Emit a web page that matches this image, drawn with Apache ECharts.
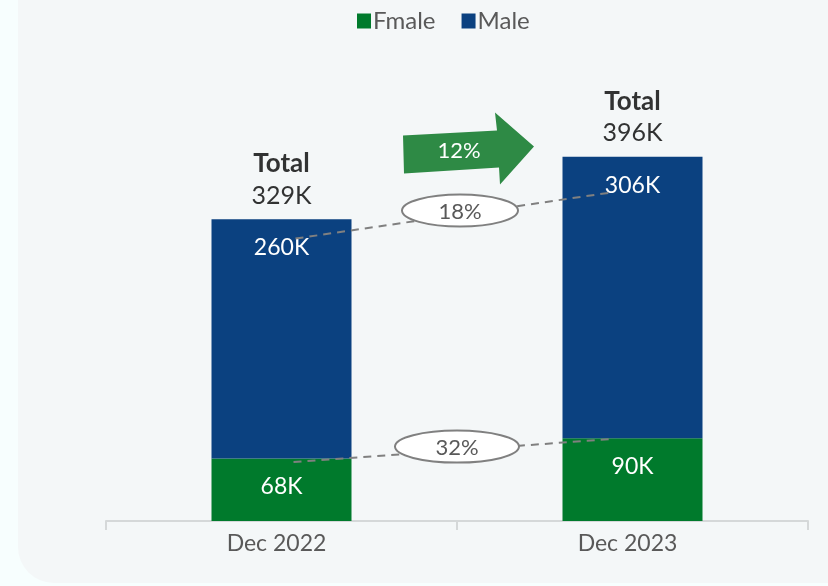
<!DOCTYPE html>
<html><head><meta charset="utf-8">
<script src="https://cdn.jsdelivr.net/npm/echarts@6/dist/echarts.min.js"></script>
<style>html,body{margin:0;padding:0;background:#f7fefe;}#c{width:828px;height:586px;}</style>
</head><body><div id="c"></div>
<script>
const categories = ['Dec 2022', 'Dec 2023'];
const female = [68, 90];
const male = [260, 306];
const totalLabels = ['329K', '396K'];
const femaleGrowth = '32%';
const maleGrowth = '18%';
const totalGrowth = '12%';

const FONT = 'Lato, "Open Sans", sans-serif';
const GREEN = '#007a2c';
const BLUE = '#0b4180';
const GRAY = '#595959';

const chart = echarts.init(document.getElementById('c'), null, {renderer: 'canvas'});
const stackTop = female.map((f, i) => f + male[i]);

chart.setOption({
  backgroundColor: 'transparent',
  animation: false,
  textStyle: {fontFamily: FONT},
  legend: {
    data: ['Fmale', 'Male'],
    top: 4, left: 352,
    itemWidth: 14, itemHeight: 15, itemGap: 26,
    icon: 'rect',
    textStyle: {fontSize: 24, color: GRAY, fontFamily: FONT, padding: [0, 0, 0, -3]}
  },
  grid: {left: 106, right: 20, top: 107, bottom: 65},
  xAxis: {
    type: 'category', data: categories,
    axisLine: {lineStyle: {color: '#d5d8d9', width: 2}},
    axisTick: {show: true, length: 9, lineStyle: {color: '#d5d8d9', width: 2}},
    axisLabel: {fontSize: 23, color: GRAY, margin: 11, fontFamily: FONT, padding: [0, 10, 0, 0]}
  },
  yAxis: {type: 'value', min: 0, max: 450, show: false, splitLine: {show: false}},
  series: [
    {
      name: 'Fmale', type: 'bar', stack: 'g', data: female, barWidth: 140,
      itemStyle: {color: GREEN},
      label: {show: true, position: 'insideTop', distance: 17, color: '#fff', fontSize: 23, fontFamily: FONT,
        formatter: p => p.value + 'K'}
    },
    {
      name: 'Male', type: 'bar', stack: 'g', data: male, barWidth: 140,
      itemStyle: {color: BLUE},
      label: {show: true, position: 'insideTop', distance: 17, color: '#fff', fontSize: 23, fontFamily: FONT,
        formatter: p => p.value + 'K'}
    },
    {
      name: 'Total', type: 'scatter', data: stackTop, symbol: 'rect', symbolSize: [1, 1],
      itemStyle: {color: 'rgba(0,0,0,0)'}, z: 5,
      label: {show: true, position: 'top', distance: 7,
        formatter: p => '{a|Total}\n{b|' + totalLabels[p.dataIndex] + '}',
        rich: {
          a: {fontSize: 26, fontWeight: 'bold', color: '#000', lineHeight: 32, fontFamily: FONT},
          b: {fontSize: 25, color: '#000', lineHeight: 32, fontFamily: FONT}
        }}
    }
  ]
});

// annotations anchored to axis positions
const px = (c, v) => chart.convertToPixel({gridIndex: 0}, [c, v]);
const m0 = px(0, 0), m1 = px(1, 0);
const midX = (m0[0] + m1[0]) / 2;
const lineStyle = {stroke: '#808080', lineWidth: 2, lineDash: [8, 6]};

function growthLink(v0, v1, dx0, dx1, cx, cy, rx, text) {
  const a = px(0, v0), b = px(1, v1);
  return [
    {type: 'line', z: 20, silent: true, shape: {x1: a[0] + dx0, y1: a[1], x2: b[0] + dx1, y2: b[1]}, style: lineStyle},
    {type: 'ellipse', z: 21, silent: true, shape: {cx: cx, cy: cy, rx: rx, ry: 16},
      style: {fill: '#ffffff', stroke: '#808080', lineWidth: 2}},
    {type: 'text', z: 22, silent: true, x: cx, y: cy + 1,
      style: {text: text, fill: GRAY, font: '22px ' + FONT, textAlign: 'center', textVerticalAlign: 'middle'}}
  ];
}

const topA = px(0, 307), topB = px(1, 357);
const botA = px(0, 64), botB = px(1, 89);
const arrowCx = midX + 11, arrowCy = px(0, 405)[1];
const arrowPts = [[-65, -13], [29, -18], [27, -36], [66, -2], [32, 36], [31, 19], [-64, 25]]
  .map(p => [p[0] + arrowCx, p[1] + arrowCy]);

chart.setOption({
  graphic: [
    {type: 'rect', z: -10, silent: true,
      shape: {x: 18, y: -20, width: 830, height: 603, r: [0, 0, 0, 36]}, style: {fill: '#f4f7f8'}},
    ...growthLink(307, 357, 14, -22, midX + 3, (topA[1] + topB[1]) / 2 - 5, 58, maleGrowth),
    ...growthLink(64, 89, 12, -22, midX, (botA[1] + botB[1]) / 2 - 4, 62, femaleGrowth),
    {type: 'polygon', z: 20, silent: true, shape: {points: arrowPts}, style: {fill: '#2e8a45'}},
    {type: 'text', z: 21, silent: true, x: arrowCx - 9, y: arrowCy + 3,
      style: {text: totalGrowth, fill: '#fff', font: '22px ' + FONT, textAlign: 'center', textVerticalAlign: 'middle'}}
  ]
});
</script></body></html>
